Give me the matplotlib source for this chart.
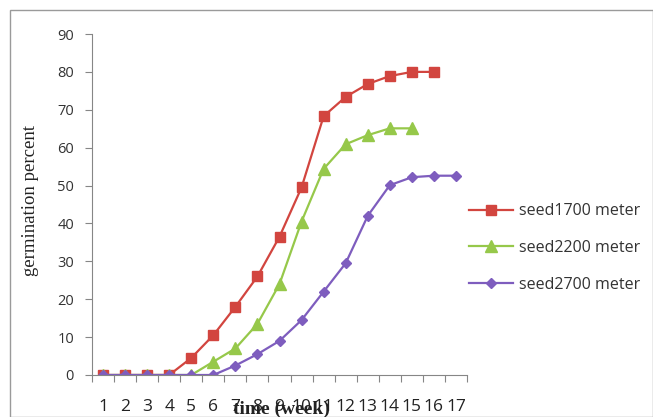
import numpy as np
import matplotlib
matplotlib.use("Agg")
import matplotlib.pyplot as plt
from matplotlib.patches import Rectangle

weeks = list(range(1, 18))
seed1700 = [0, 0, 0, 0, 4.5, 10.5, 18, 26, 36.5, 49.5, 68.3, 73.4, 76.8, 78.9, 80, 80]
seed2200 = [0, 0, 0, 0, 0, 3.5, 7, 13.5, 24, 40.5, 54.4, 60.9, 63.3, 65.1, 65.1]
seed2700 = [0, 0, 0, 0, 0, 0, 2.5, 5.5, 9, 14.5, 22, 29.5, 42, 50.1, 52.2, 52.6, 52.6]
labels = ["seed1700 meter", "seed2200 meter", "seed2700 meter"]
yticks = list(range(0, 91, 10))

W, H = 653, 417
fig = plt.figure(figsize=(W / 100, H / 100), dpi=100)
# outer frame like the excel chart area
fig.patches.append(Rectangle((10 / W, 0), (W - 10) / W, (H - 10) / H,
                             transform=fig.transFigure, fill=False,
                             edgecolor="#9a9a9a", linewidth=1))

left, right, top, bottom = 92, 467, 34, 375
ax = fig.add_axes([left / W, 1 - bottom / H, (right - left) / W, (bottom - top) / H])

red, green, purple = "#D2453F", "#96C84A", "#7E5DBE"
ax.plot(weeks[:len(seed1700)], seed1700, color=red, marker="s", ms=7.5, lw=1.6, label=labels[0])
ax.plot(weeks[:len(seed2200)], seed2200, color=green, marker="^", ms=8, lw=1.6, label=labels[1])
ax.plot(weeks[:len(seed2700)], seed2700, color=purple, marker="D", ms=5.5, lw=1.6, label=labels[2])

ax.set_xlim(0.5, 17.5)
ax.set_ylim(0, 90)
ax.set_yticks(yticks)
ax.set_yticklabels([str(v) for v in yticks], fontfamily="Open Sans", fontsize=10.5, color="#333333")
ax.set_xticks(np.arange(0.5, 18, 1))
ax.set_xticklabels([])
ax.set_xticks(weeks, minor=True)
ax.set_xticklabels([str(w) for w in weeks], minor=True, fontfamily="Open Sans",
                   fontsize=12.5, color="#222222")
ax.tick_params(axis="x", which="minor", length=0, pad=17)
ax.tick_params(axis="x", which="major", length=5, color="#868686", direction="out")
ax.tick_params(axis="y", length=5, color="#868686", direction="out", pad=8)

for s in ["top", "right"]:
    ax.spines[s].set_visible(False)
for s in ["left", "bottom"]:
    ax.spines[s].set_color("#868686")

# labels overlap the tick labels, as in the source picture
fig.text(281 / W, 1 - 409 / H, "time (week)", ha="center", va="center",
         fontfamily="Liberation Serif", fontsize=14, fontweight="bold", color="#222222")
fig.text(31 / W, 1 - 200 / H, "germination percent", ha="center", va="center",
         rotation=90, fontfamily="Liberation Serif", fontsize=13.5, color="#222222")

ax.legend(loc="center left",
          bbox_to_anchor=((455 - left) / (right - left), 1 - (248 - top) / (bottom - top)),
          frameon=False, prop={"family": "Open Sans", "size": 11.5},
          handlelength=2.7, labelspacing=1.3, handletextpad=0.4, labelcolor="#333333")

fig.savefig("out.png", dpi=100)
